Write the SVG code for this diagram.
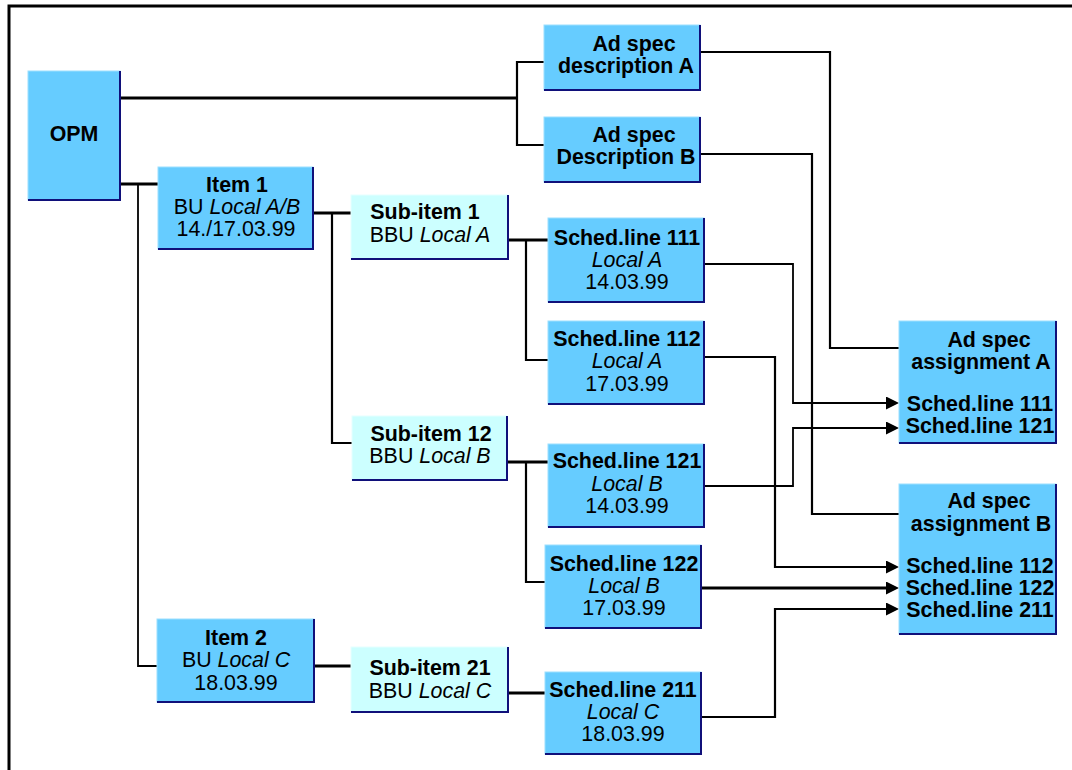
<svg xmlns="http://www.w3.org/2000/svg" width="1072" height="770" viewBox="0 0 1072 770">
  <style>
    .box { fill: #66ccff; stroke: #9be0ff; stroke-width: 1; }
    .pale { fill: #ccffff; stroke: #e6ffff; stroke-width: 1; }
    .edge { fill: none; stroke: #10107a; stroke-width: 2; }
    .t { font-family: "Liberation Sans", Arial, sans-serif; font-size: 21.4px; fill: #000; text-anchor: middle; }
    .b { font-weight: bold; }
    .i { font-style: italic; }
    .thick { fill: none; stroke: #000; stroke-width: 3; }
    .thin { fill: none; stroke: #000; stroke-width: 2.2; }
    .hair { fill: none; stroke: #000; stroke-width: 1.8; }
  </style>
  <defs>
    <marker id="arrow" viewBox="0 0 13 13" refX="4" refY="6.5" markerWidth="13" markerHeight="13" markerUnits="userSpaceOnUse" orient="auto">
      <path d="M0,0 L13,6.5 L0,13 z" fill="#000"/>
    </marker>
  </defs>

  <rect width="1072" height="770" fill="#fff"/>
  <!-- outer frame -->
  <rect x="9" y="6" width="1100" height="800" fill="none" stroke="#000" stroke-width="3"/>

  <!-- connectors -->
  <g id="connectors">
    <path class="thick" d="M120 98 H517"/>
    <path class="thin" d="M544 62 H517 V145 H544"/>
    <path class="thick" d="M120 184 H158"/>
    <path class="hair" d="M138 184 V666 H157"/>
    <path class="thick" d="M313 213 H351"/>
    <path class="thin" d="M332 213 V443 H352"/>
    <path class="thick" d="M508 240 H548"/>
    <path class="thin" d="M526 240 V360 H548"/>
    <path class="thick" d="M507 462 H548"/>
    <path class="thin" d="M526 462 V582 H545"/>
    <path class="thick" d="M314 666 H351"/>
    <path class="thick" d="M508 693 H545"/>

    <path class="thin" d="M700 52 H830 V348 H899"/>
    <path class="thin" d="M700 154 H812 V514 H899"/>
    <path class="hair" d="M704 264 H793 V403 H890" marker-end="url(#arrow)"/>
    <path class="hair" d="M704 486 H793 V428 H890" marker-end="url(#arrow)"/>
    <path class="thin" d="M704 357 H775 V567 H890" marker-end="url(#arrow)"/>
    <path class="thick" d="M701 588 H890" marker-end="url(#arrow)"/>
    <path class="thin" d="M701 717 H775 V609 H890" marker-end="url(#arrow)"/>
  </g>

  <g id="opm">
    <rect class="box" x="28" y="71" width="92" height="129"/>
    <path class="edge" d="M120 71 V200 H28"/>
    <text class="t b" x="74" y="141">OPM</text>
  </g>

  <g id="desc-a">
    <rect class="box" x="544" y="25" width="156" height="65"/>
    <path class="edge" d="M700 25 V90 H544"/>
    <text class="t b" x="634" y="51">Ad spec</text>
    <text class="t b" x="626" y="73">description A</text>
  </g>

  <g id="desc-b">
    <rect class="box" x="544" y="117" width="156" height="65"/>
    <path class="edge" d="M700 117 V182 H544"/>
    <text class="t b" x="634" y="142">Ad spec</text>
    <text class="t b" x="626" y="164">Description B</text>
  </g>

  <g id="item-1">
    <rect class="box" x="158" y="167" width="155" height="82"/>
    <path class="edge" d="M313 167 V249 H158"/>
    <text class="t b" x="237" y="192">Item 1</text>
    <text class="t" x="237" y="214">BU <tspan class="i">Local A/B</tspan></text>
    <text class="t" x="236" y="236">14./17.03.99</text>
  </g>

  <g id="item-2">
    <rect class="box" x="157" y="619" width="157" height="83"/>
    <path class="edge" d="M314 619 V702 H157"/>
    <text class="t b" x="236" y="645">Item 2</text>
    <text class="t" x="236" y="667">BU <tspan class="i">Local C</tspan></text>
    <text class="t" x="236" y="690">18.03.99</text>
  </g>

  <g id="sub-item-1">
    <rect class="pale" x="351" y="195" width="157" height="64"/>
    <path class="edge" d="M508 195 V259 H351"/>
    <text class="t b" x="425" y="219">Sub-item 1</text>
    <text class="t" x="430" y="242">BBU <tspan class="i">Local A</tspan></text>
  </g>

  <g id="sub-item-12">
    <rect class="pale" x="352" y="416" width="155" height="64"/>
    <path class="edge" d="M507 416 V480 H352"/>
    <text class="t b" x="431" y="441">Sub-item 12</text>
    <text class="t" x="430" y="463">BBU <tspan class="i">Local B</tspan></text>
  </g>

  <g id="sub-item-21">
    <rect class="pale" x="351" y="647" width="157" height="65"/>
    <path class="edge" d="M508 647 V712 H351"/>
    <text class="t b" x="430" y="675">Sub-item 21</text>
    <text class="t" x="430" y="698">BBU <tspan class="i">Local C</tspan></text>
  </g>

  <g id="sched-111">
    <rect class="box" x="548" y="218" width="156" height="84"/>
    <path class="edge" d="M704 218 V302 H548"/>
    <text class="t b" x="627" y="245">Sched.line 111</text>
    <text class="t i" x="627" y="267">Local A</text>
    <text class="t" x="627" y="289">14.03.99</text>
  </g>

  <g id="sched-112">
    <rect class="box" x="548" y="321" width="156" height="83"/>
    <path class="edge" d="M704 321 V404 H548"/>
    <text class="t b" x="627" y="346">Sched.line 112</text>
    <text class="t i" x="627" y="368">Local A</text>
    <text class="t" x="627" y="391">17.03.99</text>
  </g>

  <g id="sched-121">
    <rect class="box" x="548" y="444" width="156" height="83"/>
    <path class="edge" d="M704 444 V527 H548"/>
    <text class="t b" x="627" y="468">Sched.line 121</text>
    <text class="t i" x="627" y="491">Local B</text>
    <text class="t" x="627" y="513">14.03.99</text>
  </g>

  <g id="sched-122">
    <rect class="box" x="545" y="545" width="156" height="83"/>
    <path class="edge" d="M701 545 V628 H545"/>
    <text class="t b" x="624" y="571">Sched.line 122</text>
    <text class="t i" x="624" y="593">Local B</text>
    <text class="t" x="624" y="615">17.03.99</text>
  </g>

  <g id="sched-211">
    <rect class="box" x="545" y="672" width="156" height="82"/>
    <path class="edge" d="M701 672 V754 H545"/>
    <text class="t b" x="623" y="697">Sched.line 211</text>
    <text class="t i" x="623" y="719">Local C</text>
    <text class="t" x="623" y="741">18.03.99</text>
  </g>

  <g id="assign-a">
    <rect class="box" x="899" y="321" width="157" height="122"/>
    <path class="edge" d="M1056 321 V443 H899"/>
    <text class="t b" x="989" y="347">Ad spec</text>
    <text class="t b" x="981" y="369">assignment A</text>
    <text class="t b" x="980" y="411">Sched.line 111</text>
    <text class="t b" x="980" y="433">Sched.line 121</text>
  </g>

  <g id="assign-b">
    <rect class="box" x="899" y="484" width="157" height="150"/>
    <path class="edge" d="M1056 484 V634 H899"/>
    <text class="t b" x="989" y="508">Ad spec</text>
    <text class="t b" x="981" y="531">assignment B</text>
    <text class="t b" x="980" y="573">Sched.line 112</text>
    <text class="t b" x="980" y="595">Sched.line 122</text>
    <text class="t b" x="980" y="617">Sched.line 211</text>
  </g>
</svg>
